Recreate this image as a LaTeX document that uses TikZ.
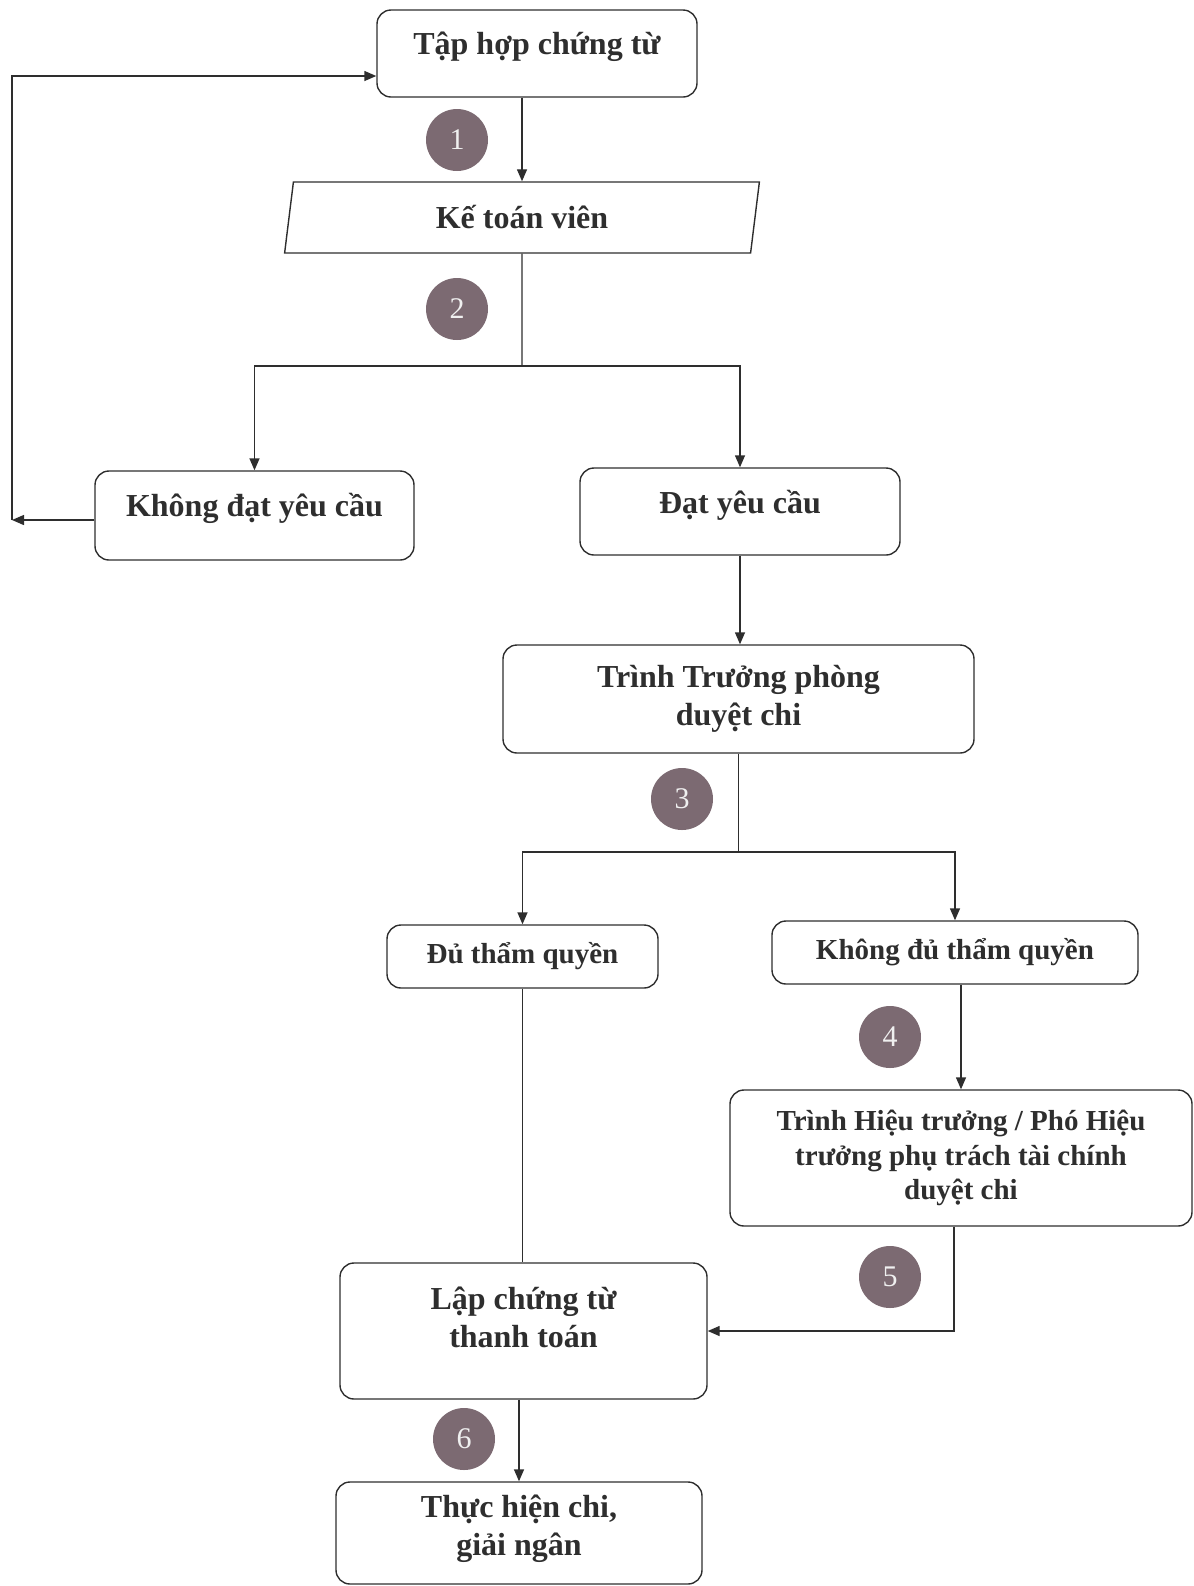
\documentclass[tikz,border=0pt]{standalone}
\usepackage{fontspec}
\setmainfont{Liberation Serif}
\usetikzlibrary{shapes.geometric}
\usetikzlibrary{arrows.meta}
\definecolor{stepfill}{HTML}{7C6A72}
\definecolor{inkgray}{HTML}{2E2E2E}
\tikzstyle{boxB} = [draw=inkgray, line width=0.7pt, rounded corners=7pt, align=center, inner sep=0pt, text=black!82, font=\fontsize{16}{19.2}\selectfont\bfseries]
\tikzstyle{boxS} = [boxB, font=\fontsize{14.5}{17.4}\selectfont\bfseries]
\tikzstyle{stepnum} = [circle, fill=stepfill, minimum size=31pt, inner sep=0pt, text=white!88!gray, font=\fontsize{15}{18}\selectfont]
\tikzstyle{arrow} = [draw=inkgray, line width=0.7pt, -{Triangle[length=6pt,width=5pt]}]
\tikzstyle{line} = [draw=inkgray, line width=0.7pt]

\begin{document}
\begin{tikzpicture}[x=0.5pt, y=-0.5pt]
    \useasboundingbox (0,0) rectangle (1194,1586);
    \node [boxB, minimum width=160pt, minimum height=43.5pt, text depth=10pt] (th) at (537,53.5) {Tập hợp chứng từ};
    \node [boxB, rounded corners=0pt, trapezium, trapezium stretches=true, trapezium left angle=82, trapezium right angle=98, minimum width=239pt, minimum height=35.5pt] (ktv) at (522,217.5) {Kế toán viên};
    \node [boxB, minimum width=159.5pt, minimum height=44.5pt, text depth=10.5pt] (kd) at (254.5,515.5) {Không đạt yêu cầu};
    \node [boxB, minimum width=160pt, minimum height=43.5pt, text depth=9.5pt] (dat) at (740,511.5) {Đạt yêu cầu};
    \node [boxB, minimum width=235.5pt, minimum height=54pt] (tp) at (738.5,699) {Trình Trưởng phòng\\duyệt chi};
    \node [boxS, minimum width=135.5pt, minimum height=31.5pt] (du) at (522.5,956.5) {Đủ thẩm quyền};
    \node [boxS, minimum width=183pt, minimum height=31.5pt] (kdu) at (955,952.5) {Không đủ thẩm quyền};
    \node [boxS, minimum width=231pt, minimum height=68pt] (ht) at (961,1158) {Trình Hiệu trưởng / Phó Hiệu\\trưởng phụ trách tài chính\\duyệt chi};
    \node [boxB, minimum width=183.5pt, minimum height=68pt, text depth=14pt] (lap) at (523.5,1331) {Lập chứng từ\\thanh toán};
    \node [boxB, minimum width=183pt, minimum height=51pt, text depth=8pt] (thc) at (519,1533) {Thực hiện chi,\\giải ngân};

    % step numbers
    \node [stepnum] (n1) at (457,140) {1};
    \node [stepnum] (n2) at (457,309) {2};
    \node [stepnum] (n3) at (682,799) {3};
    \node [stepnum] (n4) at (890,1037) {4};
    \node [stepnum] (n5) at (890,1277) {5};
    \node [stepnum] (n6) at (464,1439) {6};

    \coordinate (s1) at (522,366);
    \coordinate (s2) at (739,852);
    \coordinate (fb) at (12,520);
    \coordinate (fbtop) at (12,76);

    \draw [arrow] (ktv.north |- th.south) -- (ktv.north);
    \draw [line] (ktv.south) -- (s1);
    \draw [arrow] (s1) -| (kd.north);
    \draw [arrow] (s1) -| (dat.north);
    \draw [arrow] (kd.west |- fb) -- (fb);
    \draw [arrow] (fb) -- (fbtop) -- (fbtop -| th.west);
    \draw [arrow] (dat.south) -- (dat.south |- tp.north);
    \draw [line] (tp.south) -- (tp.south |- s2);
    \draw [arrow] (s2) -| (du.north);
    \draw [arrow] (s2) -| (kdu.north);
    \draw [arrow] (ht.north |- kdu.south) -- (ht.north);
    \draw [line] (du.south) -- (du.south |- lap.north);
    \draw [arrow] ([xshift=-3.5pt]ht.south) |- (lap.east);
    \draw [arrow] (thc.north |- lap.south) -- (thc.north);
  \end{tikzpicture}
\end{document}
